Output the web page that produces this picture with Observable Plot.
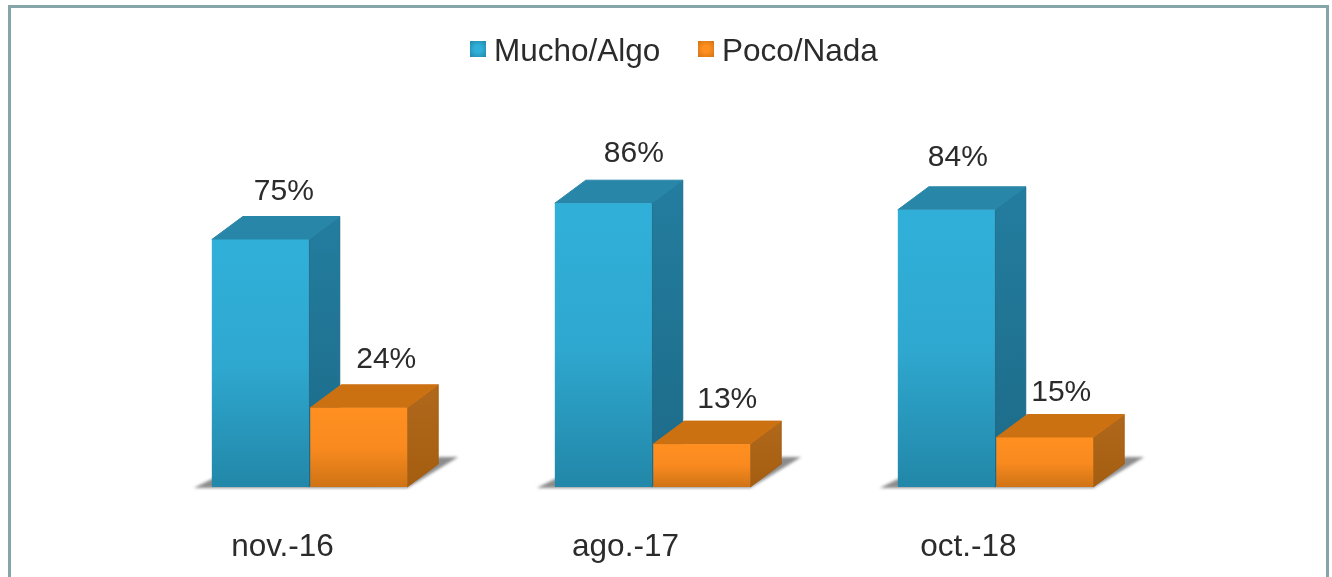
<!DOCTYPE html>
<html lang="es">
<head>
<meta charset="utf-8">
<script src="https://cdn.jsdelivr.net/npm/d3@7"></script>
<script src="https://cdn.jsdelivr.net/npm/@observablehq/plot@0.6"></script>
<style>
html,body{margin:0;padding:0;background:#fff;overflow:hidden}
#wrap{position:relative;width:1332px;height:577px;overflow:hidden;filter:blur(0.5px)}
#frame{position:absolute;left:8px;top:5px;width:1321px;height:600px;border:3px solid #86a5a8;box-sizing:border-box;pointer-events:none}
#legend{position:absolute;left:0;top:0;width:100%;font:31.5px "Liberation Sans",Arial,sans-serif;color:#2b2b2b}
#legend .sw{position:absolute;top:41px;width:16px;height:16px}
#legend .lb{position:absolute;top:33px;line-height:34px;white-space:nowrap}
svg{position:absolute;left:0;top:0}
</style>
</head>
<body>
<div id="wrap"><div id="frame"></div><div id="legend"></div><div id="chart"></div></div>
<script>
const dates = ["nov.-16", "ago.-17", "oct.-18"];
const series = ["Mucho/Algo", "Poco/Nada"];
const muchoAlgo = [75, 86, 84];
const pocoNada = [24, 13, 15];

const rows = dates.flatMap((date, i) => [
  {date, series: series[0], value: muchoAlgo[i]},
  {date, series: series[1], value: pocoNada[i]}
]);

// Layout, kept apart from the data: nudges of each value label from its bar top.
const labelNudge = [[23, -50], [27, -50], [30, -51], [25, -46], [11, -54], [16, -47]];
const depth = {x: 31, y: -23};
const face = {
  "Mucho/Algo": {id: "blue", front: ["#30b0d9", "#2fa8d0", "#2287a8"], side: ["#237d9f", "#1d6a88"], top: "#2886a8"},
  "Poco/Nada": {id: "orange", front: ["#ff8f20", "#f98a1f", "#cf7315"], side: ["#b0681c", "#a55d10"], top: "#cc7112"}
};
const legendStyle = [{sw: 470, lb: 494}, {sw: 698, lb: 722}];

const legend = d3.select("#legend");
series.forEach((s, i) => {
  const f = face[s];
  legend.append("div").attr("class", "sw")
    .style("left", legendStyle[i].sw + "px")
    .style("background", `radial-gradient(circle, ${f.front[0]} 30%, ${f.front[2]} 100%)`);
  legend.append("div").attr("class", "lb").style("left", legendStyle[i].lb + "px").text(s);
});

function defs() {
  const d = d3.create("svg:defs");
  const grad = (id, stops) => {
    const g = d.append("linearGradient").attr("id", id).attr("x1", 0).attr("x2", 0).attr("y1", 0).attr("y2", 1);
    stops.forEach((c, i) => g.append("stop").attr("offset", i / (stops.length - 1)).attr("stop-color", c));
  };
  for (const s of series) {
    grad(face[s].id + "-front", face[s].front);
    grad(face[s].id + "-side", face[s].side);
  }
  d.append("filter").attr("id", "floor").attr("x", "-20%").attr("y", "-50%").attr("width", "140%").attr("height", "200%")
    .append("feGaussianBlur").attr("stdDeviation", 1.8);
  return d.node();
}

const widthOf = g => +g.querySelector("rect").getAttribute("width");

// Draws the bar's front face through the library, then adds side and top from the same scales.
function box(s) {
  const f = face[s];
  return function (index, scales, values, dimensions, context, next) {
    const front = next(index, scales, values, dimensions, context);
    const bw = widthOf(front);
    const g = d3.create("svg:g");
    const data = rows.filter(d => d.series === s);
    for (const i of index) {
      const x0 = values.x[i];
      const x1 = x0 + bw;
      const y0 = scales.y(0);
      const y1 = scales.y(data[i].value);
      g.append("path")
        .attr("d", `M${x1},${y1}L${x1 + depth.x},${y1 + depth.y}L${x1 + depth.x},${y0 + depth.y}L${x1},${y0}Z`)
        .attr("fill", `url(#${f.id}-side)`).attr("stroke", f.side[1]).attr("stroke-width", 1).attr("stroke-linejoin", "round");
      g.append("path")
        .attr("d", `M${x0},${y1}L${x0 + depth.x},${y1 + depth.y}L${x1 + depth.x},${y1 + depth.y}L${x1},${y1}Z`)
        .attr("fill", f.top).attr("stroke", f.top).attr("stroke-width", 1).attr("stroke-linejoin", "round");
    }
    g.node().appendChild(front);
    return g.node();
  };
}

function floor(index, scales, values, dimensions, context, next) {
  const bw = widthOf(next(index, scales, values, dimensions, context));
  const g = d3.create("svg:g").attr("filter", "url(#floor)");
  for (const i of index) {
    const x0 = values.x[i];
    const x1 = x0 + 2 * bw + 1.5;
    const y0 = scales.y(0);
    g.append("path")
      .attr("d", `M${x0 - 18},${y0 + 1}L${x1},${y0 + 1}L${x1 + depth.x + 20},${y0 + depth.y - 7}L${x1 + depth.x},${y0 + depth.y - 7}L${x1},${y0 - 2}L${x0},${y0 - 8}Z`)
      .attr("fill", "#8c8c8c");
  }
  return g.node();
}

const bars = s => Plot.barY(rows.filter(d => d.series === s), {
  fx: "date", x: "series", y: "value",
  fill: `url(#${face[s].id}-front)`,
  render: box(s)
});

const chart = Plot.plot({
  width: 1332,
  height: 577,
  marginLeft: 137.2,
  marginRight: 165,
  marginTop: 157,
  marginBottom: 90,
  style: {background: "transparent", overflow: "visible", fontFamily: "'Liberation Sans',Arial,sans-serif"},
  fx: {domain: dates, padding: 0, label: null, axis: null},
  x: {domain: series, paddingInner: 0.015, paddingOuter: 0.75, axis: null, round: false},
  y: {domain: [0, 100], axis: null},
  marks: [
    defs,
    Plot.barY(rows.filter(d => d.series === series[0]), {fx: "date", x: "series", y: "value", render: floor}),
    bars(series[0]),
    bars(series[1]),
    ...rows.map((d, i) => Plot.text([d], {
      fx: "date", x: "series", y: "value",
      text: r => r.value + "%",
      dx: labelNudge[i][0], dy: labelNudge[i][1],
      fontSize: 30, fill: "#2b2b2b"
    })),
    Plot.axisFx({anchor: "bottom", label: null, tickSize: 0, tickPadding: 46, dx: -27.5, fontSize: 31.5, fill: "#2b2b2b"})
  ]
});
document.getElementById("chart").appendChild(chart);
</script>
</body>
</html>
